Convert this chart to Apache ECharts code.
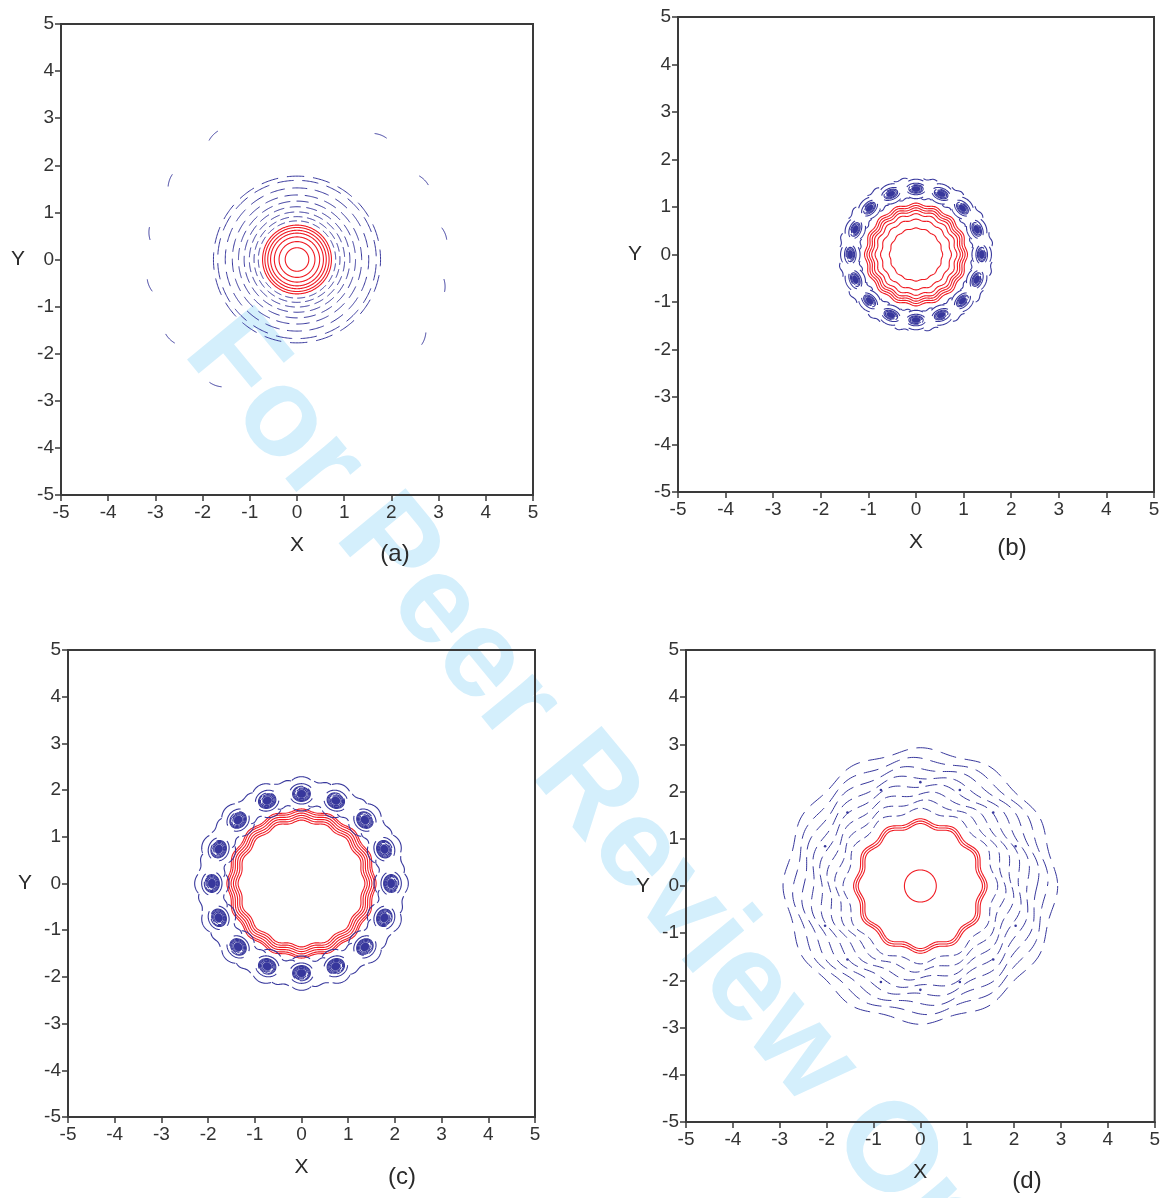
<!DOCTYPE html>
<html><head><meta charset="utf-8">
<script src="https://cdn.jsdelivr.net/npm/echarts@6/dist/echarts.min.js"></script>
<style>html,body{margin:0;padding:0;background:#fff}#c{width:1163px;height:1198px}</style>
</head><body><div id="c"></div><script>
// ---------- data ----------
const tickValues = [-5, -4, -3, -2, -1, 0, 1, 2, 3, 4, 5];
const panelLabels = ['(a)', '(b)', '(c)', '(d)'];
const axisNameX = 'X';
const axisNameY = 'Y';
const watermarkText = 'For Peer Review Only';

// (a) red closed contours, blue broken contours, outer broken arcs
const aRedRadii = [0.25, 0.38, 0.48, 0.56, 0.62, 0.68, 0.73];
const aBlueRadii = [0.82, 0.91, 1.01, 1.12, 1.24, 1.37, 1.52, 1.68, 1.77];
const aOuterRadius = 3.2;
const aOuterAngles = [10, 32, 56, 124, 148, 170, 190, 212, 237, 328, 350];

// (b) wavy red contours + ring of 16 vortices
const bRedRadii = [0.55, 0.73, 0.84, 0.91, 0.96, 1.01, 1.06];
const bRedWave = [0.01, 0.015, 0.02, 0.02, 0.022, 0.022, 0.022];
const bBlobRadius = 1.38;
const bBlobAngles = [0, 22.5, 45, 67.5, 90, 112.5, 135, 157.5, 180, 202.5, 225, 247.5, 270, 292.5, 315, 337.5];

// (c) wavy red contours + ring of 16 vortices
const cRedRadii = [1.33, 1.38, 1.43, 1.48, 1.53, 1.57];
const cRedWave = [0.028, 0.028, 0.028, 0.028, 0.028, 0.028];
const cBlobRadius = 1.92;
const cBlobAngles = [0, 22.5, 45, 67.5, 90, 112.5, 135, 157.5, 180, 202.5, 225, 247.5, 270, 292.5, 315, 337.5];

// (d) core circle, wavy red contours, broken blue contours, small dots
const dCoreRadius = 0.34;
const dRedRadii = [1.28, 1.33, 1.38];
const dRedWave = [0.045, 0.045, 0.045];
const dBlueRadii = [1.6, 1.78, 1.96, 2.14, 2.32, 2.5, 2.68, 2.88];
const dDotRadius = 2.2;
const dDotAngles = [22.5, 45, 67.5, 90, 112.5, 135, 157.5, 202.5, 225, 247.5, 270, 292.5, 315, 337.5];

// ---------- layout / style ----------
const RED = '#f01c24';
const BLUE = '#37379c';
const AXIS = '#3a3a3a';
const gridBoxes = [
  { left: 61, top: 24, width: 472, height: 471 },
  { left: 678, top: 17, width: 476, height: 475 },
  { left: 68, top: 650, width: 467, height: 467 },
  { left: 686, top: 650, width: 469, height: 472 }
];
const labelPos = [[395, 554], [1012, 548], [402, 1177], [1027, 1181]];
const FONT = '"Liberation Sans", Arial, Helvetica, sans-serif';

const chart = echarts.init(document.getElementById('c'), null, { renderer: 'canvas' });

function axisCommon(name, margin) {
  return {
    type: 'value', min: tickValues[0], max: tickValues[tickValues.length - 1], interval: 1,
    axisLine: { show: true, onZero: false, lineStyle: { color: AXIS, width: 2 } },
    axisTick: { show: true, inside: false, length: 6, lineStyle: { color: AXIS, width: 1.5 } },
    axisLabel: { show: true, fontSize: 19, color: '#333', fontFamily: FONT, margin: margin },
    splitLine: { show: false },
    name: name, nameLocation: 'middle',
    nameTextStyle: { fontSize: 21, color: '#2a2a2a', fontFamily: FONT }
  };
}

// closed (possibly wavy) contour through the axes' scales
function ringRender(color, width, dashCount, dashFrac) {
  return function (params, api) {
    const r = api.value(0), amp = api.value(1), lobes = api.value(2), phase = api.value(3);
    const N = 360, pts = [];
    for (let k = 0; k <= N; k++) {
      const t = k / N * 2 * Math.PI;
      const rr = r + amp * Math.cos(lobes * t + phase);
      pts.push(api.coord([rr * Math.cos(t), rr * Math.sin(t)]));
    }
    const style = { stroke: color, fill: 'none', lineWidth: width };
    if (dashCount) {
      const circ = 2 * Math.PI * api.size([r, 0])[0];
      const p = circ / dashCount;
      const f = dashFrac || 0.7;
      style.lineDash = [p * f, p * (1 - f)];
      style.lineDashOffset = params.dataIndex * p * 0.41;
    }
    return { type: 'polyline', shape: { points: pts }, style: style };
  };
}

// short hooked arc at a given angle on a circle
function arcRender(R, halfSpanDeg, color) {
  return function (params, api) {
    const th = api.value(0) * Math.PI / 180, hs = halfSpanDeg * Math.PI / 180;
    const pts = [];
    for (let k = 0; k <= 20; k++) {
      const s = k / 20;
      const t = th - hs + 2 * hs * s;
      const rr = R - 0.06 * s * s;
      pts.push(api.coord([rr * Math.cos(t), rr * Math.sin(t)]));
    }
    return { type: 'polyline', shape: { points: pts }, style: { stroke: color, fill: 'none', lineWidth: 1 } };
  };
}

// small vortex: nested ellipses oriented along the ring, with swirl arcs
function blobRender(R, size, aspect, scales, color) {
  return function (params, api) {
    const th = api.value(0) * Math.PI / 180;
    const cx = R * Math.cos(th), cy = R * Math.sin(th);
    const tx = -Math.sin(th), ty = Math.cos(th), nx = Math.cos(th), ny = Math.sin(th);
    const ell = (s, from, to, asp) => {
      const pts = [], n = 40;
      for (let k = 0; k <= n; k++) {
        const p = from + (to - from) * k / n;
        const u = s * size * Math.cos(p), v = s * size * (asp || aspect) * Math.sin(p);
        pts.push(api.coord([cx + u * tx + v * nx, cy + u * ty + v * ny]));
      }
      return pts;
    };
    const st = { stroke: color, fill: 'none', lineWidth: 1.1 };
    const children = [];
    children.push({ type: 'polygon', shape: { points: ell(scales[0], 0, 2 * Math.PI) }, style: { fill: color, stroke: color, lineWidth: 1 } });
    for (let i = 1; i < scales.length; i++) {
      children.push({ type: 'polyline', shape: { points: ell(scales[i], 0.6 * i, 0.6 * i + 2 * Math.PI * 0.9) }, style: st });
    }
    const big = scales[scales.length - 1];
    children.push({ type: 'polyline', shape: { points: ell(big * 1.35, 0.35, 2.5) }, style: st });
    children.push({ type: 'polyline', shape: { points: ell(big * 1.35, 3.6, 5.8) }, style: st });
    children.push({ type: 'polyline', shape: { points: ell(big * 1.75, 0.9, 2.2, aspect * 1.3) }, style: st });
    children.push({ type: 'polyline', shape: { points: ell(big * 1.75, 4.1, 5.3, aspect * 1.3) }, style: st });
    // connecting arcs between neighbouring vortices (outer and inner side)
    const arc = (rr, a0, a1) => {
      const pts = [];
      for (let k = 0; k <= 16; k++) {
        const t = th + a0 + (a1 - a0) * k / 16;
        const w = rr + 0.02 * Math.sin(k / 16 * Math.PI * 2);
        pts.push(api.coord([w * Math.cos(t), w * Math.sin(t)]));
      }
      return pts;
    };
    const off = size * 1.7 / R;
    children.push({ type: 'polyline', shape: { points: arc(R + size * 1.5, off * 0.6, off * 1.6) }, style: st });
    children.push({ type: 'polyline', shape: { points: arc(R - size * 1.3, -off * 1.5, -off * 0.5) }, style: st });
    return { type: 'group', children: children };
  };
}

function dotRender(R, color) {
  return function (params, api) {
    const th = api.value(0) * Math.PI / 180;
    const c = api.coord([R * Math.cos(th), R * Math.sin(th)]);
    return { type: 'circle', shape: { cx: c[0], cy: c[1], r: 1.3 }, style: { fill: color } };
  };
}

const ringData = (radii, waves, lobes, phase) => radii.map((r, i) => [r, waves ? waves[i] : 0, lobes || 0, phase || 0]);
const angleData = (angles) => angles.map(a => [a, 0]);

function custom(idx, data, render, z) {
  return { type: 'custom', xAxisIndex: idx, yAxisIndex: idx, data: data, renderItem: render, silent: true, z: z || 2, animation: false };
}

const series = [
  // (a)
  custom(0, ringData(aRedRadii), ringRender(RED, 1.1)),
  custom(0, aBlueRadii.map((r, i) => [r, 0, 0, 0]), ringRender(BLUE, 1, 20, 0.66)),
  custom(0, angleData(aOuterAngles), arcRender(aOuterRadius, 2.4, BLUE)),
  // (b)
  custom(1, ringData(bRedRadii, bRedWave, 16, 0), ringRender(RED, 1.1)),
  custom(1, angleData(bBlobAngles), blobRender(bBlobRadius, 0.15, 0.6, [0.6, 0.8, 1.0], BLUE)),
  // (c)
  custom(2, ringData(cRedRadii, cRedWave, 16, 0), ringRender(RED, 1.1)),
  custom(2, angleData(cBlobAngles), blobRender(cBlobRadius, 0.19, 0.85, [0.5, 0.64, 0.78, 0.9, 1.0], BLUE)),
  // (d)
  custom(3, ringData([dCoreRadius]), ringRender(RED, 1.1)),
  custom(3, ringData(dRedRadii, dRedWave, 12, 0), ringRender(RED, 1.1)),
  custom(3, dBlueRadii.map((r, i) => [r, 0.05, 12, i * 0.9]), ringRender(BLUE, 1, 34, 0.65)),
  custom(3, angleData(dDotAngles), dotRender(dDotRadius, BLUE))
];

const graphics = [
  {
    type: 'text', x: 160, y: 371, rotation: -50.5 * Math.PI / 180, z: -10, silent: true,
    style: { text: watermarkText, font: 'bold 126px ' + FONT, fill: '#d4effc', align: 'left', verticalAlign: 'bottom' }
  }
].concat(panelLabels.map((t, i) => ({
  type: 'text', x: labelPos[i][0], y: labelPos[i][1], z: 10, silent: true,
  style: { text: t, font: '24px ' + FONT, fill: '#2a2a2a', align: 'center', verticalAlign: 'middle' }
})));

chart.setOption({
  animation: false,
  backgroundColor: '#ffffff',
  grid: gridBoxes.map(g => Object.assign({ show: true, borderColor: AXIS, borderWidth: 2, backgroundColor: 'transparent', containLabel: false }, g)),
  xAxis: gridBoxes.map((g, i) => Object.assign(axisCommon(axisNameX, 8), { gridIndex: i, position: 'bottom', nameGap: 40 })),
  yAxis: gridBoxes.map((g, i) => Object.assign(axisCommon(axisNameY, 7), { gridIndex: i, position: 'left', nameGap: 36, nameRotate: 0 })),
  graphic: graphics,
  series: series
});
</script></body></html>
